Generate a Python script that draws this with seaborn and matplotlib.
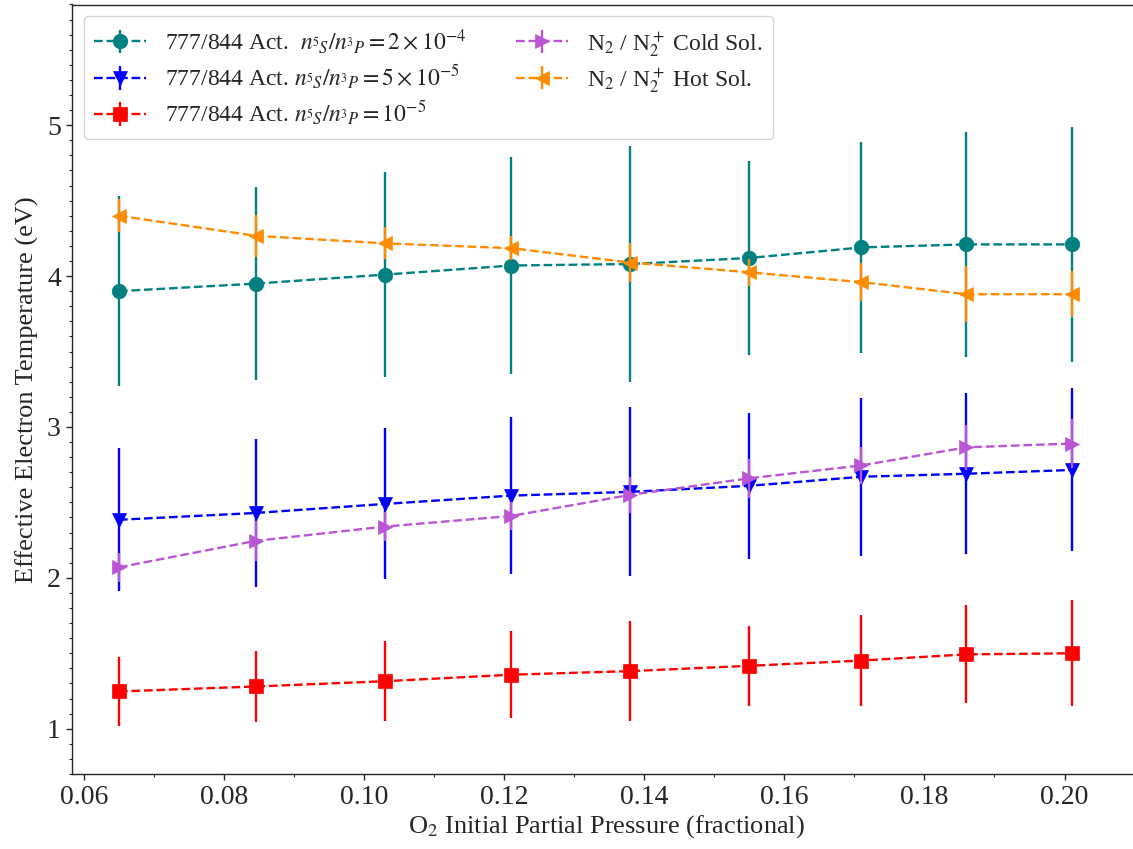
import numpy as np
import matplotlib
matplotlib.use("Agg")
import matplotlib.pyplot as plt
from matplotlib.ticker import MultipleLocator
import seaborn as sns
import pandas as pd
from matplotlib.container import ErrorbarContainer

# ---- data ----
o2_frac = [0.065, 0.0845, 0.103, 0.121, 0.138, 0.155, 0.171, 0.186, 0.201]

te_2e4 = [3.90, 3.95, 4.01, 4.07, 4.08, 4.12, 4.19, 4.21, 4.21]
err_2e4 = [0.63, 0.64, 0.68, 0.72, 0.78, 0.645, 0.70, 0.745, 0.78]

te_5e5 = [2.385, 2.43, 2.49, 2.545, 2.57, 2.61, 2.67, 2.69, 2.715]
err_5e5 = [0.475, 0.49, 0.50, 0.52, 0.56, 0.485, 0.525, 0.535, 0.54]

te_1e5 = [1.247, 1.28, 1.315, 1.358, 1.382, 1.417, 1.452, 1.493, 1.50]
err_1e5 = [0.23, 0.235, 0.265, 0.29, 0.33, 0.265, 0.30, 0.325, 0.35]

te_cold = [2.07, 2.245, 2.34, 2.41, 2.55, 2.66, 2.745, 2.865, 2.89]
err_cold = [0.095, 0.13, 0.095, 0.095, 0.12, 0.13, 0.125, 0.15, 0.16]

te_hot = [4.40, 4.267, 4.217, 4.185, 4.09, 4.025, 3.96, 3.88, 3.88]
err_hot = [0.108, 0.138, 0.106, 0.078, 0.126, 0.09, 0.128, 0.185, 0.152]

labels = [
    r"777/844 Act.  $n_{^5S}/n_{^3P} = 2\times10^{-4}$",
    r"777/844 Act. $n_{^5S}/n_{^3P} = 5\times10^{-5}$",
    r"777/844 Act. $n_{^5S}/n_{^3P} = 10^{-5}$",
    r"N$_2$ / N$_2^+$ Cold Sol.",
    r"N$_2$ / N$_2^+$ Hot Sol.",
]
values = [te_2e4, te_5e5, te_1e5, te_cold, te_hot]
errors = [err_2e4, err_5e5, err_1e5, err_cold, err_hot]
colors = ["teal", "blue", "red", "mediumorchid", "darkorange"]
markers = ["o", "v", "s", ">", "<"]

# ---- style ----
sns.set_style("ticks")
plt.rcParams["font.family"] = ["Liberation Serif", "DejaVu Serif"]
plt.rcParams["mathtext.fontset"] = "stix"

fig = plt.figure(figsize=(11.33, 8.49), dpi=100)
ax = fig.add_axes([72 / 1133, 75 / 849, 0.944, 769.5 / 849])

handles = []
for i, (lab, y, e, c, m) in enumerate(zip(labels, values, errors, colors, markers)):
    df = pd.DataFrame({"x": o2_frac, "y": y})
    bars = ax.errorbar(o2_frac, y, yerr=e, fmt="none", ecolor=c,
                       elinewidth=1.7, capsize=0, zorder=2 + i)
    sns.lineplot(data=df, x="x", y="y", ax=ax, color=c, marker=m,
                 markersize=10.5, markeredgecolor=c, markeredgewidth=0.5,
                 linestyle="--", linewidth=1.7, legend=False, zorder=2 + i)
    line = ax.lines[-1]
    cont = ErrorbarContainer((line, (), bars.lines[2]), has_xerr=False,
                             has_yerr=True, label=lab)
    handles.append(cont)

ax.set_xlim(0.0583, 0.211)
ax.set_ylim(0.7, 5.8)
ax.set_xticks([0.06, 0.08, 0.10, 0.12, 0.14, 0.16, 0.18, 0.20])
ax.set_yticks([1, 2, 3, 4, 5])
ax.set_xticklabels(["0.06", "0.08", "0.10", "0.12", "0.14", "0.16", "0.18", "0.20"])
ax.xaxis.set_minor_locator(MultipleLocator(0.01))
ax.yaxis.set_minor_locator(MultipleLocator(0.1))
ax.tick_params(axis="both", which="major", labelsize=20, length=4.5, width=1)
ax.tick_params(axis="both", which="minor", length=2.5, width=0.8)
for s in ax.spines.values():
    s.set_linewidth(1.0)
ax.set_xlabel(r"O$_2$ Initial Partial Pressure (fractional)", fontsize=19, labelpad=2)
ax.set_ylabel("Effective Electron Temperature (eV)", fontsize=19, labelpad=6)

ax.legend(handles=handles, labels=labels, loc="upper left", ncol=2,
          fontsize=17, frameon=True, framealpha=0.8, borderpad=0.45,
          columnspacing=2.1, handlelength=2.2, labelspacing=0.3)

fig.savefig("out.png", dpi=100)
